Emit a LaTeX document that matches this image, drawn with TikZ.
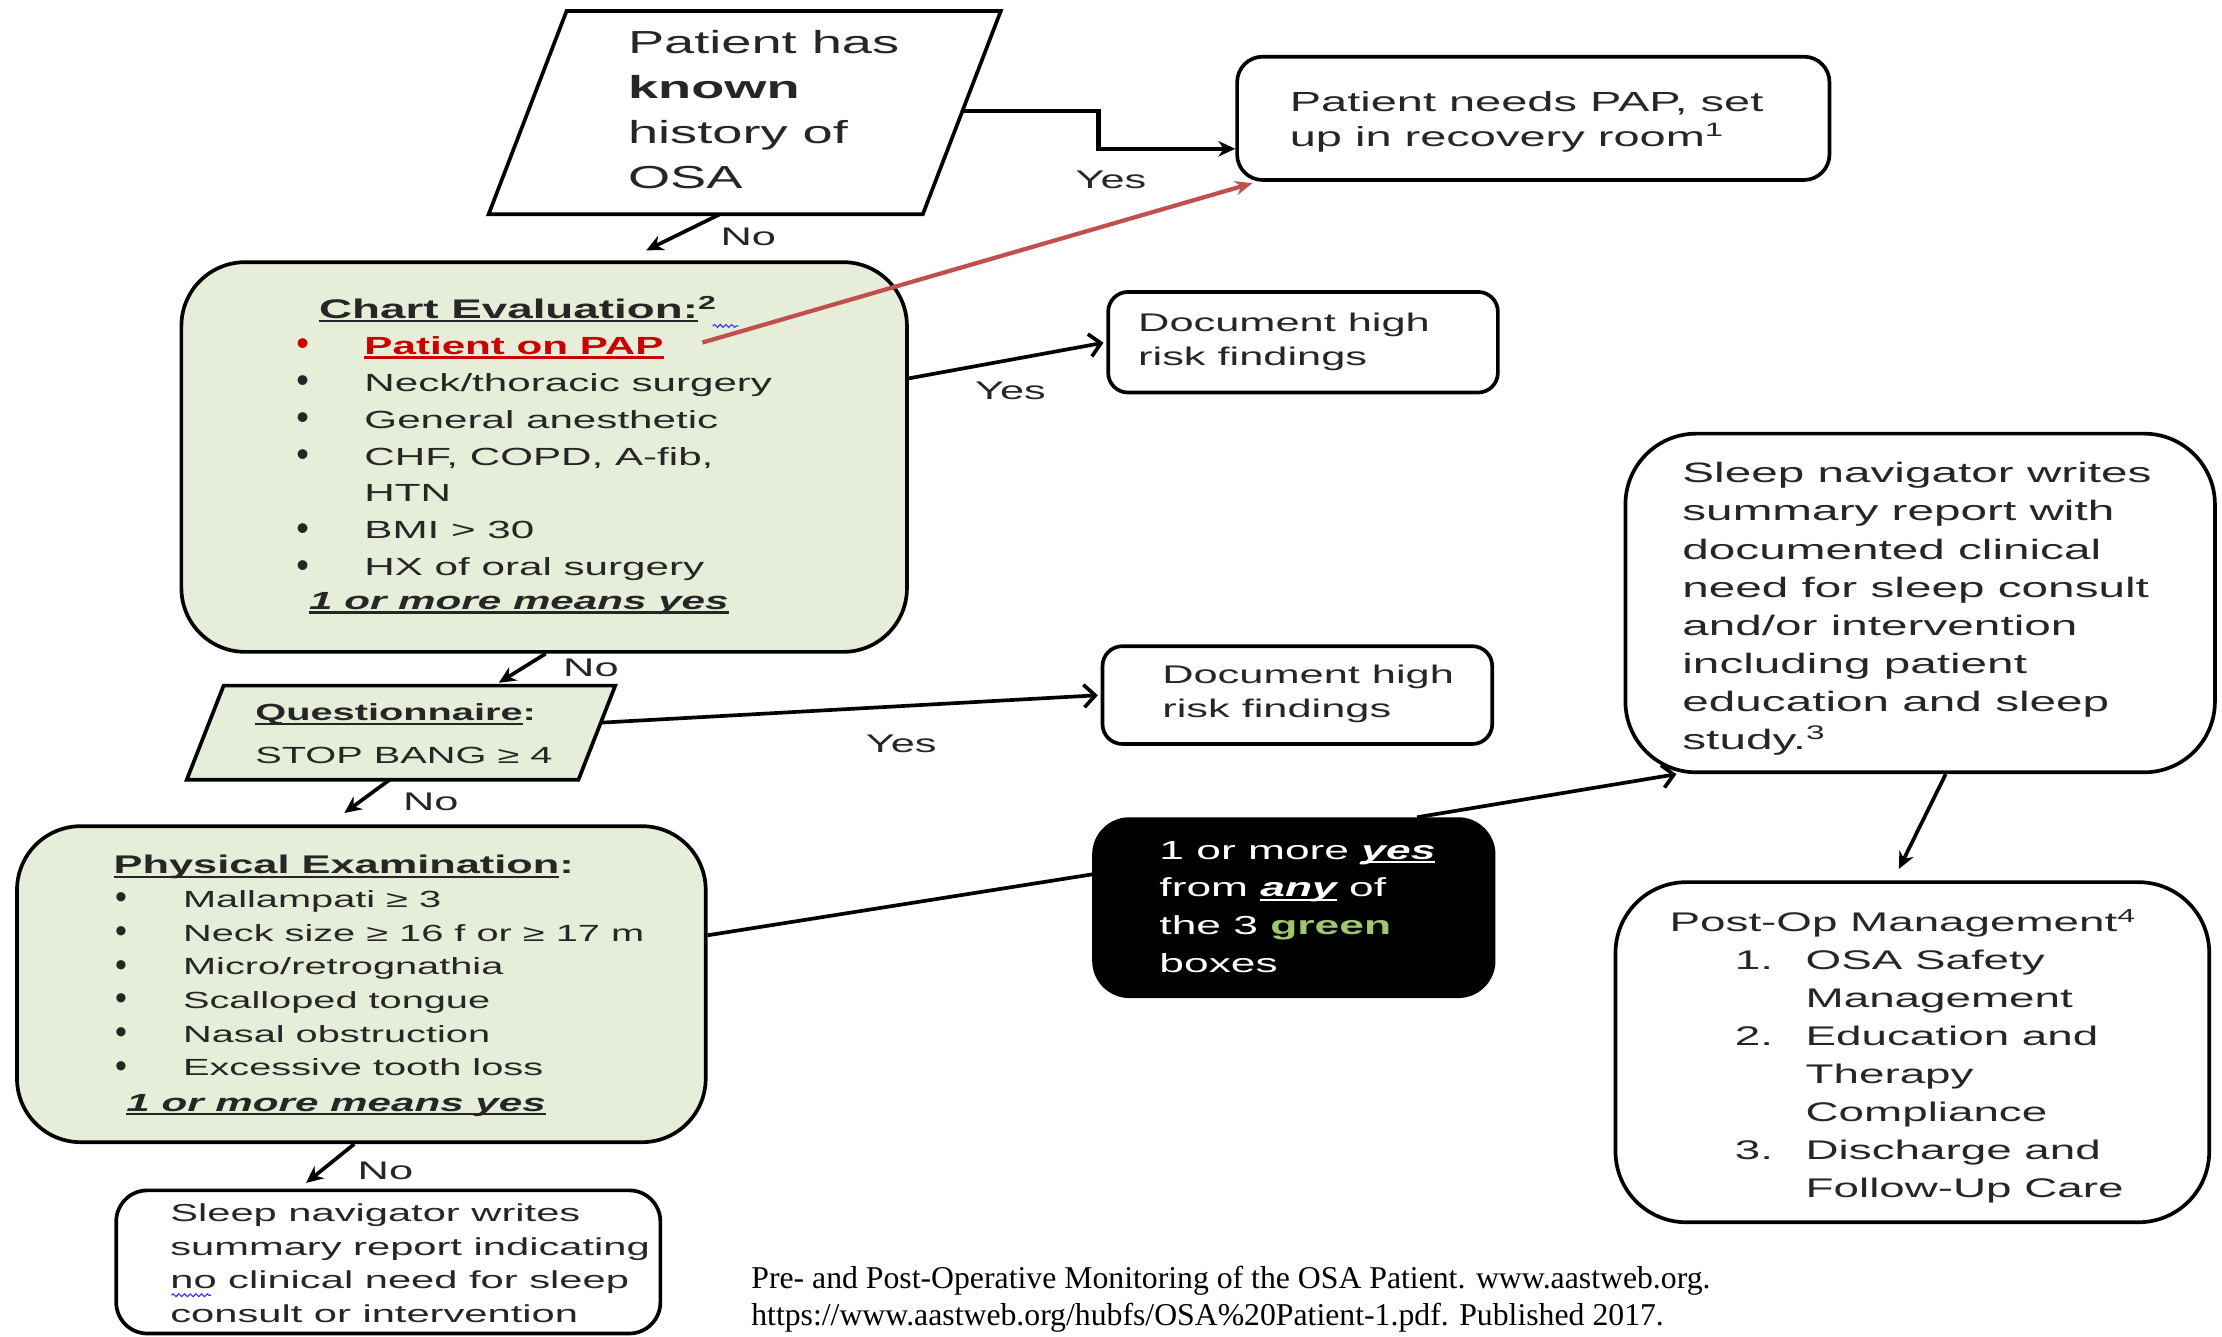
\documentclass[tikz,border=0pt]{standalone}
\usepackage{fontspec}
\setmainfont{Liberation Sans}[FakeStretch=1.7]
\newfontfamily\plainsans{Liberation Sans}
\newfontfamily\reffont{Liberation Serif}
\usetikzlibrary{arrows.meta,calc,decorations.pathmorphing}
\definecolor{gfill}{RGB}{230,238,217}
\definecolor{tgray}{RGB}{38,38,38}
\definecolor{redline}{RGB}{192,80,77}
\definecolor{redtext}{RGB}{204,0,0}
\definecolor{lgreen}{RGB}{160,198,110}
\newcommand\ulx[1]{\leavevmode\setbox0=\hbox{#1}\rlap{\rule[-2.8pt]{\wd0}{1.5pt}}\box0}
\newcommand\bul{\makebox[49pt][l]{\hspace*{1pt}\raisebox{-1pt}{\scalebox{1.45}{\plainsans\textbullet}}}}
\newcommand\nobul{\makebox[49pt][l]{}}
\begin{document}
\begin{tikzpicture}[x=1pt,y=-1pt,
  bx/.style={draw=black, line width=2.6pt, inner sep=0pt},
  gbox/.style={bx, fill=gfill},
  body/.style={inner sep=0pt, draw=none},
  pline/.style={line width=2.6pt, draw=black},
  txt/.style={inner sep=0pt, anchor=north west, align=left, text=tgray},
  lbl/.style={inner sep=0pt, text=tgray, font=\fontsize{18}{20}\selectfont},
  conn/.style={line width=2.6pt, draw=black},
  noarr/.style={conn, -{Stealth[length=12pt,width=11pt]}},
  yesarr/.style={conn, -{Straight Barb[length=8pt,width=16pt]}},
]
\useasboundingbox (0,0) rectangle (1568,943);

% ---------- boxes ----------
\node[body, minimum width=251pt, minimum height=143pt] (hist) at (525.5,79.5) {};
\draw[pline, fill=white] (hist.north west) -- ([xshift=55pt]hist.north east) -- (hist.south east) -- ([xshift=-55pt]hist.south west) -- cycle;

\node[bx, rounded corners=18pt, minimum width=418pt, minimum height=87pt] (pap) at (1082,83.5) {};
\node[gbox, rounded corners=45pt, minimum width=512pt, minimum height=275pt] (chart) at (384,322.5) {};
\node[bx, rounded corners=14pt, minimum width=275pt, minimum height=71pt] (doc1) at (919.5,241.5) {};

\node[body, minimum width=250pt, minimum height=66pt] (quest) at (283,517) {};
\draw[pline, fill=gfill] (quest.north west) -- ([xshift=26pt]quest.north east) -- (quest.south east) -- ([xshift=-26pt]quest.south west) -- cycle;

\node[bx, rounded corners=14pt, minimum width=275pt, minimum height=69pt] (doc2) at (915.5,490.5) {};
\node[gbox, rounded corners=45pt, minimum width=486pt, minimum height=223pt] (phys) at (255,694.5) {};
\node[bx, fill=black, rounded corners=25pt, minimum width=282pt, minimum height=125pt] (black) at (913,640.5) {};
\node[bx, rounded corners=50pt, minimum width=416pt, minimum height=239pt] (sleepR) at (1355,425.5) {};
\node[bx, rounded corners=50pt, minimum width=419pt, minimum height=240pt] (postop) at (1349.5,742.5) {};
\node[bx, rounded corners=22pt, minimum width=384pt, minimum height=101pt] (sleepL) at (274,890.5) {};

% ---------- connectors ----------
\coordinate (hr) at ($([xshift=55pt]hist.north east)!0.49!(hist.south east)$);
\draw[conn, line width=3pt, -{Stealth[length=12pt,width=11pt]}] (hr) -- ++(96,0) |- ([yshift=-21.5pt]pap.west);
\draw[noarr] ([xshift=-17.5pt]hist.south) -- ([xshift=72pt,yshift=7pt]chart.north);
\draw[line width=3pt, draw=redline, -{Stealth[length=12pt,width=10pt]}] ([xshift=369pt,yshift=-58pt]chart.north west) -- ([xshift=12pt,yshift=-1pt]pap.south west);
\draw[yesarr, shorten >=2pt] ([yshift=55.5pt]chart.east) -- (doc1.west);
\draw[noarr] ([xshift=1pt]chart.south) -- ([xshift=69pt,yshift=2pt]quest.north);
\coordinate (qr) at ($([xshift=26pt]quest.north east)!0.394!(quest.south east)$);
\draw[yesarr, shorten >=2pt] (qr) -- (doc2.west);
\draw[noarr] ([xshift=-8pt]quest.south) -- ([xshift=-12pt,yshift=8pt]phys.north);
\draw[conn] ([yshift=34.5pt]phys.east) -- ([yshift=23.5pt]black.west);
\draw[yesarr] ([xshift=87pt]black.north) -- ([xshift=-172pt]sleepR.south);
\draw[noarr] ([xshift=18pt]sleepR.south) -- ([xshift=-9.5pt,yshift=8pt]postop.north);
\draw[noarr] ([xshift=-5pt]phys.south) -- ([xshift=-58pt,yshift=4pt]sleepL.north);

% ---------- labels ----------
\node[lbl] (l1) at (784,127) {Yes};
\node[lbl] (l2) at (528,167) {No};
\node[lbl] (l3) at (713,276) {Yes};
\node[lbl] (l4) at (417,471) {No};
\node[lbl] (l5) at (636,525) {Yes};
\node[lbl] (l6) at (304,566) {No};
\node[lbl] (l7) at (272,826) {No};

% ---------- texts ----------
\node[txt, font=\fontsize{22.5}{31.7}\selectfont] (histT) at (443,15.3)
  {\strut Patient has\\\textbf{known}\\history of\\OSA};
\node[txt, font=\fontsize{19.5}{25}\selectfont] (papT) at (910,61)
  {\strut Patient needs PAP, set\\up in recovery room\textsuperscript{1}};
\node[txt, font=\fontsize{19}{25}\selectfont] (chartH) at (225,207)
  {\strut\textbf{\ulx{Chart Evaluation:}}\textsuperscript{\textbf{2}}};
\node[txt, font=\fontsize{17.5}{26}\selectfont] (chartL) at (208,231.8)
  {\strut{\color{redtext}\bul\textbf{\ulx{Patient on PAP}}}\\
   \bul Neck/thoracic surgery\\
   \bul General anesthetic\\
   \bul CHF, COPD, A-fib,\\
   \nobul HTN\\
   \bul BMI > 30\\
   \bul HX of oral surgery};
\node[txt, font=\fontsize{17.5}{26}\selectfont] (chartF) at (218,411.8)
  {\strut\textbf{\textit{\ulx{1 or more means yes}}}};
\node[txt, font=\fontsize{18}{24}\selectfont] (doc1T) at (803,217)
  {\strut Document high\\risk findings};
\node[txt, font=\fontsize{18}{24}\selectfont] (doc2T) at (820,465)
  {\strut Document high\\risk findings};
\node[txt, font=\fontsize{16.5}{30}\selectfont] (questT) at (180,487.5)
  {\strut\textbf{\ulx{Questionnaire}:}\\STOP BANG ≥ 4};
\node[txt, font=\fontsize{18}{24}\selectfont] (physH) at (80,599.7)
  {\strut\textbf{\ulx{Physical Examination}:}};
\node[txt, font=\fontsize{16.5}{23.8}\selectfont] (physL) at (80,623.4)
  {\strut\bul Mallampati ≥ 3\\
   \bul Neck size ≥ 16 f or ≥ 17 m\\
   \bul Micro/retrognathia\\
   \bul Scalloped tongue\\
   \bul Nasal obstruction\\
   \bul Excessive tooth loss};
\node[txt, font=\fontsize{17.5}{24}\selectfont] (physF) at (89,767)
  {\strut\textbf{\textit{\ulx{1 or more means yes}}}};
\node[txt, text=white, font=\fontsize{18.4}{26.7}\selectfont] (blackT) at (818,587.3)
  {\strut 1 or more \textbf{\textit{\ulx{yes}}}\\
   from \textbf{\textit{\ulx{any}}} of\\
   the 3 \textbf{\color{lgreen}green}\\
   boxes};
\node[txt, font=\fontsize{19.8}{26.9}\selectfont] (sleepRT) at (1187,321.7)
  {\strut Sleep navigator writes\\
   summary report with\\
   documented clinical\\
   need for sleep consult\\
   and/or intervention\\
   including patient\\
   education and sleep\\
   study.\textsuperscript{3}};
\node[txt, font=\fontsize{19}{26.8}\selectfont] (postT) at (1178,638.5)
  {\strut Post-Op Management\textsuperscript{4}\\
   \hspace*{46pt}\makebox[50pt][l]{1.}OSA Safety\\
   \hspace*{96pt}Management\\
   \hspace*{46pt}\makebox[50pt][l]{2.}Education and\\
   \hspace*{96pt}Therapy\\
   \hspace*{96pt}Compliance\\
   \hspace*{46pt}\makebox[50pt][l]{3.}Discharge and\\
   \hspace*{96pt}Follow-Up Care};
\node[txt, font=\fontsize{17.3}{23.7}\selectfont] (sleepLT) at (120,845.4)
  {\strut Sleep navigator writes\\
   summary report indicating\\
   no clinical need for sleep\\
   consult or intervention};
\node[txt, text=black, font=\reffont\fontsize{22.4}{26}\selectfont] (ref) at (530,891)
  {\strut Pre- and Post-Operative Monitoring of the OSA Patient. www.aastweb.org.\\
   https://www.aastweb.org/hubfs/OSA\%20Patient-1.pdf. Published 2017.};

% spell-check squiggles
\draw[blue!80, line width=0.8pt, decorate, decoration={snake,amplitude=1pt,segment length=4pt}] (121,914) -- (149,914);
\draw[blue!80, line width=0.8pt, decorate, decoration={snake,amplitude=1pt,segment length=4pt}] (503,230) -- (521,230);
\end{tikzpicture}
\end{document}
